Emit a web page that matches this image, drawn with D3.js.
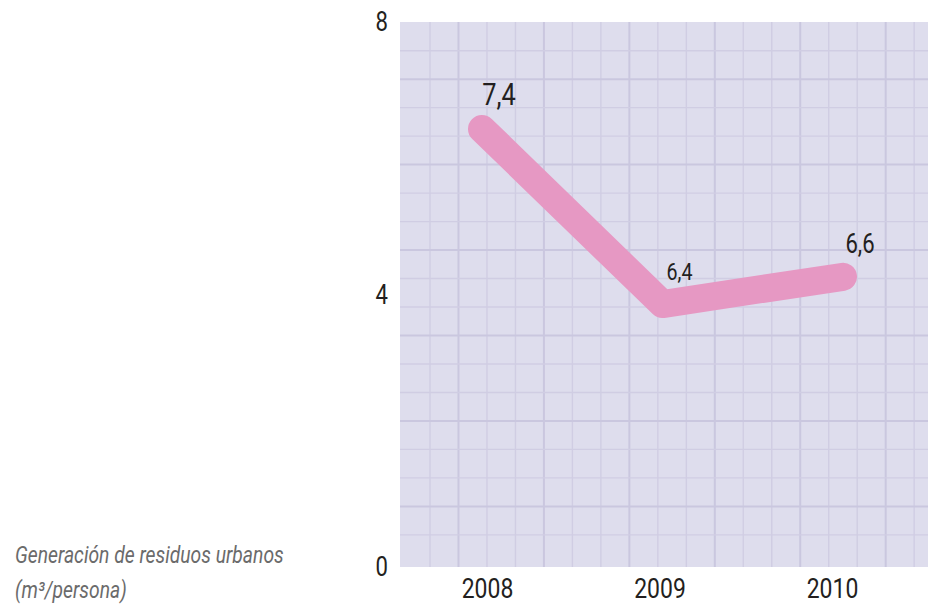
<!DOCTYPE html>
<html>
<head>
<script src="https://cdn.jsdelivr.net/npm/d3@7"></script>
  <meta charset="utf-8">
  <title>Residuos urbanos</title>

  <style>
  body {
    margin: 0;
    background: white;
  }
  text {
    font-family: Roboto, sans-serif;
  }
  .axis text {
    fill: #231f20;
    font-family: Roboto, sans-serif;
  }
  .axis path.domain {
    display: none;
  }
  .title {
    font-style: italic;
    fill: #6b6b6b;
    font-size: 23px;
  }
  </style>

</head>
<body>
<script type="text/javascript">

var years = ["2008", "2009", "2010"];
// where the line sits on the 0-8 axis (as drawn)
var values = [6.43, 3.86, 4.26];
// printed labels
var labels = ["7,4", "6,4", "6,6"];
var yTicks = [0, 4, 8];
var titleLines = ["Generación de residuos urbanos", "(m³/persona)"];

var width = 928,
    height = 606;

// no condensed font installed, so squeeze roboto sideways
var narrow = 0.82;

var svg = d3.select("body").append("svg")
          .attr("width", width)
          .attr("height", height);

var plotLeft = 400, plotRight = 928, plotTop = 22, plotBottom = 567;

var y = d3.scaleLinear().domain([0, 8]).range([plotBottom, plotTop]);
var x = d3.scalePoint().domain(years).range([482, 843]);
var xLabel = d3.scalePoint().domain(years).range([487, 832]);

// background grid
svg.append("rect")
    .attr("x", plotLeft)
    .attr("y", plotTop)
    .attr("width", plotRight - plotLeft)
    .attr("height", plotBottom - plotTop)
    .style("fill", "#dedded");

var cell = 28.48;
var vLines = d3.range(18).map(function(k){ return {k: k, p: 430 + cell * k}; });
var hLines = d3.range(18).map(function(k){ return {k: k, p: 50.7 + cell * k}; });

svg.selectAll("line.vgrid")
    .data(vLines).enter().append("line")
    .attr("class", "vgrid")
    .attr("x1", function(d){ return d.p; })
    .attr("x2", function(d){ return d.p; })
    .attr("y1", plotTop)
    .attr("y2", plotBottom)
    .style("stroke", function(d){ return d.k % 3 == 1 ? "#cac7df" : "#d0cde3"; })
    .style("stroke-width", function(d){ return d.k % 3 == 1 ? 2 : 1.4; });

svg.selectAll("line.hgrid")
    .data(hLines).enter().append("line")
    .attr("class", "hgrid")
    .attr("x1", plotLeft)
    .attr("x2", plotRight)
    .attr("y1", function(d){ return d.p; })
    .attr("y2", function(d){ return d.p; })
    .style("stroke", function(d){ return d.k % 3 == 1 ? "#cac7df" : "#d0cde3"; })
    .style("stroke-width", function(d){ return d.k % 3 == 1 ? 2 : 1.4; });

// axes
var yAxis = svg.append("g")
    .attr("class", "axis")
    .attr("transform", "translate(" + (plotLeft - 12) + ",0)")
    .call(d3.axisLeft(y).tickValues(yTicks).tickSize(0).tickPadding(0));
yAxis.selectAll("text")
    .attr("transform", "scale(" + narrow + ",1)")
    .style("font-size", "27px");

var xAxis = svg.append("g")
    .attr("class", "axis")
    .attr("transform", "translate(0," + plotBottom + ")")
    .call(d3.axisBottom(xLabel).tickSize(0).tickPadding(11));
xAxis.selectAll("text")
    .attr("transform", "scale(" + narrow + ",1)")
    .style("font-size", "28px");

// the line
var data = years.map(function(d, i){
  return {year: d, value: values[i], label: labels[i]};
});

var line = d3.line()
    .x(function(d){ return x(d.year); })
    .y(function(d){ return y(d.value); });

svg.append("path")
    .datum(data)
    .attr("d", line)
    .style("fill", "none")
    .style("stroke", "#e698c3")
    .style("stroke-width", 28)
    .style("stroke-linecap", "round")
    .style("stroke-linejoin", "round");

var labelSizes = [31, 24, 27];
svg.selectAll("text.value")
    .data(data).enter().append("text")
    .attr("class", "value")
    .attr("transform", function(d){
      return "translate(" + (x(d.year) + 17) + "," + (y(d.value) - 24) + ") scale(" + narrow + ",1)";
    })
    .attr("text-anchor", "middle")
    .style("font-size", function(d, i){ return labelSizes[i] + "px"; })
    .style("fill", "#231f20")
    .text(function(d){ return d.label; });

// title, bottom left
svg.selectAll("text.title")
    .data(titleLines).enter().append("text")
    .attr("class", "title")
    .attr("transform", function(d, i){
      return "translate(15," + (563 + i * 35) + ") scale(0.84,1)";
    })
    .text(function(d){ return d; });
</script>
</body>
</html>
